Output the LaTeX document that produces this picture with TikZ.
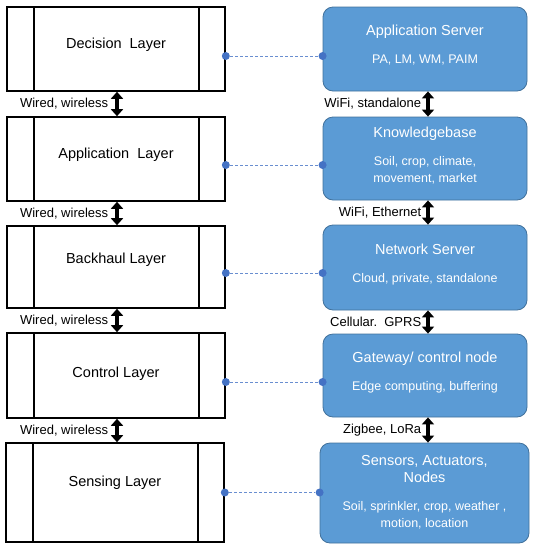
\documentclass[tikz,border=0pt]{standalone}
\usepackage{fontspec}
\setmainfont{Liberation Sans}
\usetikzlibrary{arrows.meta,positioning}
\definecolor{boxblue}{HTML}{5B9BD5}
\definecolor{boxedge}{HTML}{41719C}
\definecolor{dotblue}{HTML}{4472C4}
\tikzset{
  layer/.style={draw, line width=1.6pt, minimum width=218pt, inner sep=0pt},
  ltext/.style={font=\fontsize{14.5}{17}\selectfont},
  unit/.style={draw=boxedge, fill=boxblue, rounded corners=10pt, minimum width=204pt,
    inner sep=0pt, line width=0.8pt, text=white, align=center, text depth=9pt,
    font=\fontsize{14.5}{17}\selectfont},
  link/.style={{Triangle[width=12pt,length=7pt]}-{Triangle[width=12pt,length=7pt]}, line width=3.6pt},
  lbl/.style={font=\fontsize{13}{15}\selectfont, inner sep=0pt},
  tie/.style={dotblue!80, dash pattern=on 3pt off 2pt, line width=1pt},
  joint/.style={circle, fill=dotblue, inner sep=0pt, minimum size=8pt},
}
\newcommand{\subfont}{\fontsize{12.5}{14}\selectfont}
\begin{document}
\begin{tikzpicture}[x=1pt,y=-1pt]
\useasboundingbox (0,0) rectangle (536,550);
% layers
\node [layer, minimum height=84pt] (dec) at (116,49) {};
\node [layer, minimum height=84pt] (app) at (116,159) {};
\node [layer, minimum height=82pt] (back) at (116,267) {};
\node [layer, minimum height=85pt] (ctrl) at (116,375.5) {};
\node [layer, minimum height=99pt] (sens) at (115,492.5) {};
\node [ltext] (dect) at ([yshift=4pt]dec.center) {Decision\ \ Layer};
\node [ltext] (appt) at ([yshift=4pt]app.center) {Application\ \ Layer};
\node [ltext] (backt) at ([yshift=7pt]back.center) {Backhaul Layer};
\node [ltext] (ctrlt) at ([yshift=2pt]ctrl.center) {Control Layer};
\node [ltext] (senst) at ([yshift=10pt]sens.center) {Sensing Layer};
\foreach \n in {dec,app,back,ctrl,sens}
  \draw [line width=1.6pt] ([xshift=28pt]\n.north west) -- ([xshift=28pt]\n.south west)
    ([xshift=-27pt]\n.north east) -- ([xshift=-27pt]\n.south east);

% devices
\node [unit, minimum height=84pt] (srv) at (425,49) {Application Server\\[11pt]\subfont PA, LM, WM, PAIM};
\node [unit, minimum height=83pt, text depth=7pt] (kb) at (425,158.5) {Knowledgebase\\[11pt]\subfont Soil, crop, climate,\\\subfont movement, market};
\node [unit, minimum height=85pt] (net) at (425,267.5) {Network Server\\[11pt]\subfont Cloud, private, standalone};
\node [unit, minimum height=83pt] (gw) at (425,375.5) {Gateway/ control node\\[11pt]\subfont Edge computing, buffering};
\node [unit, minimum height=100pt, minimum width=209pt, text depth=3pt] (sen) at (424.5,493) {Sensors, Actuators,\\Nodes\\[11pt]\subfont Soil, sprinkler, crop, weather ,\\\subfont motion, location};

% links between layers
\draw [link] ([xshift=1pt]dec.south) -- node [lbl, left, xshift=-7pt] {Wired, wireless} ([xshift=1pt]app.north);
\draw [link] ([xshift=1pt]app.south) -- node [lbl, left, xshift=-7pt] {Wired, wireless} ([xshift=1pt]back.north);
\draw [link] ([xshift=1pt]back.south) -- node [lbl, left, xshift=-7pt] {Wired, wireless} ([xshift=1pt]ctrl.north);
\draw [link] ([xshift=1pt]ctrl.south) -- node [lbl, left, xshift=-7pt] {Wired, wireless} ([xshift=2pt]sens.north);
\draw [link] ([xshift=3pt]srv.south) -- node [lbl, left, xshift=-5pt] {WiFi, standalone} ([xshift=3pt]kb.north);
\draw [link] ([xshift=3pt]kb.south) -- node [lbl, left, xshift=-5pt] {WiFi, Ethernet} ([xshift=3pt]net.north);
\draw [link] ([xshift=3pt]net.south) -- node [lbl, left, xshift=-5pt] {Cellular.\ \ GPRS} ([xshift=3pt]gw.north);
\draw [link] ([xshift=3pt]gw.south) -- node [lbl, left, xshift=-5pt] {Zigbee, LoRa} ([xshift=3.5pt]sen.north);

% dotted ties
\foreach \a/\b/\d [count=\i] in {dec/srv/-7,app/kb/-6,back/net/-6,ctrl/gw/-6.5,sens/sen/0} {
  \node [joint] (l\i) at ([yshift=\d pt]\a.east) {};
  \node [joint] (r\i) at (l\i -| \b.west) {};
  \draw [tie] (l\i) -- (r\i);
}
\end{tikzpicture}
\end{document}
